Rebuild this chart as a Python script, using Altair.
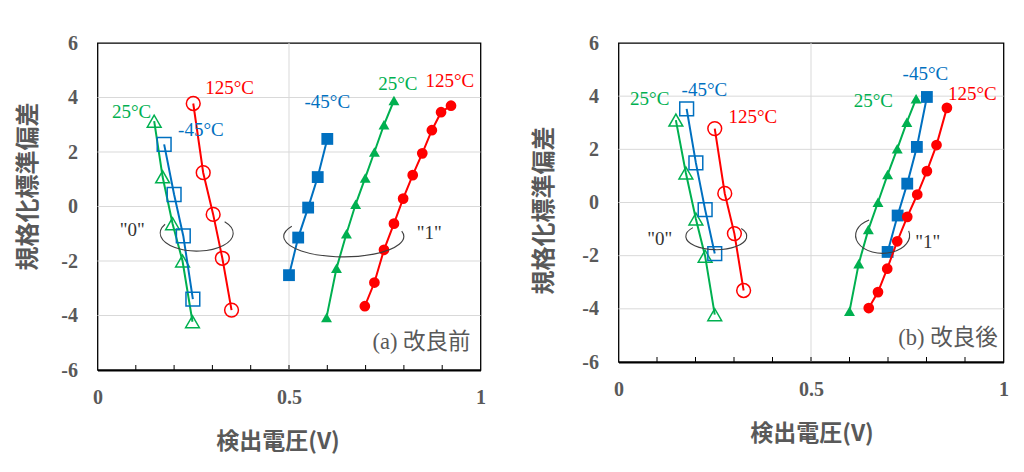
import math
import altair as alt
import pandas as pd

# ---------------- data: panel (a) 改良前 ----------------
A0_25_x = [0.148, 0.170, 0.196, 0.222, 0.248]
A0_25_y = [3.13, 1.09, -0.63, -2.00, -4.23]
A0_m45_x = [0.174, 0.200, 0.224, 0.249]
A0_m45_y = [2.28, 0.44, -1.08, -3.40]
A0_125_x = [0.250, 0.276, 0.302, 0.326, 0.350]
A0_125_y = [3.78, 1.24, -0.29, -1.90, -3.80]
A1_m45_x = [0.500, 0.524, 0.550, 0.575, 0.600]
A1_m45_y = [-2.52, -1.14, -0.04, 1.08, 2.48]
A1_25_x = [0.598, 0.624, 0.650, 0.674, 0.699, 0.723, 0.748, 0.774]
A1_25_y = [-4.07, -2.27, -1.00, 0.08, 1.05, 2.00, 3.00, 3.89]
A1_125_x = [0.698, 0.723, 0.748, 0.774, 0.798, 0.823, 0.848, 0.873, 0.897, 0.923]
A1_125_y = [-3.66, -2.79, -1.59, -0.63, 0.29, 1.15, 1.95, 2.80, 3.46, 3.70]

# ---------------- data: panel (b) 改良後 ----------------
B0_25_x = [0.149, 0.175, 0.201, 0.225, 0.250]
B0_25_y = [3.10, 1.11, -0.62, -2.02, -4.22]
B0_m45_x = [0.177, 0.201, 0.225, 0.250]
B0_m45_y = [3.52, 1.49, -0.27, -1.92]
B0_125_x = [0.250, 0.276, 0.301, 0.325]
B0_125_y = [2.78, 0.34, -1.17, -3.31]
B1_25_x = [0.600, 0.624, 0.649, 0.674, 0.699, 0.724, 0.749, 0.773]
B1_25_y = [-4.09, -2.30, -1.02, 0.01, 1.05, 2.02, 3.02, 3.90]
B1_m45_x = [0.699, 0.725, 0.750, 0.775, 0.801]
B1_m45_y = [-1.86, -0.49, 0.71, 2.09, 3.97]
B1_125_x = [0.650, 0.674, 0.698, 0.724, 0.750, 0.776, 0.801, 0.826, 0.853]
B1_125_y = [-3.97, -3.37, -2.49, -1.46, -0.54, 0.30, 1.18, 2.16, 3.56]

# ---------------- annotations ----------------
A_LABEL_TEXT = ["125°C", "25°C", "-45°C", "-45°C", "25°C", "125°C", '"0"', '"1"']
A_LABEL_X = [0.345, 0.089, 0.270, 0.600, 0.784, 0.920, 0.091, 0.866]
A_LABEL_Y = [4.35, 3.46, 2.79, 3.84, 4.50, 4.60, -0.87, -0.98]
A_LABEL_KIND = ["125", "25", "-45", "-45", "25", "125", "q", "q"]

B_LABEL_TEXT = ["25°C", "-45°C", "125°C", '"0"', "25°C", "-45°C", "125°C", '"1"']
B_LABEL_X = [0.081, 0.223, 0.349, 0.107, 0.662, 0.797, 0.919, 0.803]
B_LABEL_Y = [3.90, 4.25, 3.21, -1.37, 3.81, 4.82, 4.09, -1.50]
B_LABEL_KIND = ["25", "-45", "125", "q", "25", "-45", "125", "q"]

A_CAPTION = "(a) 改良前"
A_CAPTION_X = [0.974]
A_CAPTION_Y = [-4.96]
B_CAPTION = "(b) 改良後"
B_CAPTION_X = [0.985]
B_CAPTION_Y = [-5.10]

# ellipse centres (data units)
A_ELL_X = [0.259, 0.643]
A_ELL_Y = [-0.98, -1.10]
B_ELL_X = [0.254, 0.686]
B_ELL_Y = [-1.27, -1.24]

X_LABELS = [0, 0.5, 1]
Y_LABELS = [-6, -4, -2, 0, 2, 4, 6]
GRID_Y = [-4, -2, 0, 2, 4]
GRID_X = [0.5]
MINOR_X = [0.1, 0.2, 0.3, 0.4, 0.5, 0.6, 0.7, 0.8, 0.9]

# ---------------- styles ----------------
RED, GREEN, BLUE = "#FF0000", "#00B050", "#0070C0"
GRAY = "#595959"
COLORS = {"25": GREEN, "-45": BLUE, "125": RED, "q": "#333333"}
SHAPES = {"25": "triangle-up", "-45": "square", "125": "circle"}
OPEN_SIZE = {"25": 190, "-45": 190, "125": 190}
FILLED_SIZE = {"25": 120, "-45": 140, "125": 115}


def ellipse_path(k, a1, a2):
    x1 = math.cos(math.radians(a1))
    y1 = -k * math.sin(math.radians(a1))
    x2 = math.cos(math.radians(a2))
    y2 = -k * math.sin(math.radians(a2))
    return f"M {x1:.4f} {y1:.4f} A 1 {k:.4f} 0 1 0 {x2:.4f} {y2:.4f}"


# (pixel width, y/x ratio, start angle, end angle)
A_ELL_STYLE = [(73, 0.49, 150, 40), (120, 0.34, 150, 15)]
B_ELL_STYLE = [(61, 0.44, 140, 35), (54, 0.66, 120, 15)]


def make_panel(series, lab_text, lab_x, lab_y, lab_kind, cap, cap_x, cap_y,
               ell_x, ell_y, ell_style, W, H, xt_x, yt_x, yt_y):
    xscale = alt.Scale(domain=[0, 1], nice=False, zero=False)
    yscale = alt.Scale(domain=[-6, 6], nice=False, zero=False)
    xaxis = alt.Axis(values=X_LABELS, labelExpr="datum.value + ''", ticks=False, tickSize=0,
                     grid=False, domain=True, domainColor="#000000", domainWidth=2,
                     labelFont="Liberation Serif", labelFontWeight="bold", labelFontSize=20,
                     labelColor=GRAY, labelPadding=17, labelFlush=False,
                     title="検出電圧(V)", titleFont="Noto Sans CJK JP", titleFontWeight="bold",
                     titleFontSize=23, titleColor=GRAY, titleX=xt_x, titleY=71,
                     titleBaseline="middle", titleAlign="center")
    yaxis = alt.Axis(values=Y_LABELS, labelExpr="datum.value + ''", ticks=False, tickSize=0,
                     grid=False, domain=False,
                     labelFont="Liberation Serif", labelFontWeight="bold", labelFontSize=20,
                     labelColor=GRAY, labelPadding=20, labelFlush=False,
                     title="規格化標準偏差", titleFont="Noto Sans CJK JP", titleFontWeight="bold",
                     titleFontSize=24, titleColor=GRAY, titleX=yt_x, titleY=yt_y,
                     titleBaseline="middle", titleAlign="center", titleAngle=270)

    def X(f="x"):
        return alt.X(f"{f}:Q", scale=xscale, axis=xaxis)

    def Y(f="y"):
        return alt.Y(f"{f}:Q", scale=yscale, axis=yaxis)

    layers = []
    layers.append(alt.Chart(pd.DataFrame({"y": GRID_Y})).mark_rule(color="#D9D9D9", strokeWidth=1)
                  .encode(y=Y()))
    layers.append(alt.Chart(pd.DataFrame({"x": GRID_X})).mark_rule(color="#D9D9D9", strokeWidth=1)
                  .encode(x=X()))
    layers.append(alt.Chart(pd.DataFrame({"x": MINOR_X})).mark_rule(color="#000000", strokeWidth=1)
                  .encode(x=X(), y=alt.value(H), y2=alt.value(H - 5)))

    for xs, ys, kind, filled in series:
        df = pd.DataFrame({"x": xs, "y": ys, "i": list(range(len(xs)))})
        col = COLORS[kind]
        layers.append(alt.Chart(df).mark_line(color=col, strokeWidth=2)
                      .encode(x=X(), y=Y(), order="i:O"))
        layers.append(alt.Chart(df).mark_point(shape=SHAPES[kind], filled=filled,
                                               size=FILLED_SIZE[kind] if filled else OPEN_SIZE[kind],
                                               color=col, strokeWidth=1.5, opacity=1)
                      .encode(x=X(), y=Y()))

    for cx, cy, (pw, k, a1, a2) in zip(ell_x, ell_y, ell_style):
        df = pd.DataFrame({"x": [cx], "y": [cy]})
        layers.append(alt.Chart(df).mark_point(shape=ellipse_path(k, a1, a2), size=pw * pw,
                                               filled=False, color="#404040", strokeWidth=1.1,
                                               opacity=1)
                      .encode(x=X(), y=Y()))

    ldf = pd.DataFrame({"t": lab_text, "x": lab_x, "y": lab_y,
                        "c": [COLORS[k] for k in lab_kind]})
    layers.append(alt.Chart(ldf).mark_text(font="Liberation Serif", fontSize=19, align="center",
                                           baseline="middle")
                  .encode(x=X(), y=Y(), text="t:N", color=alt.Color("c:N", scale=None)))

    cdf = pd.DataFrame({"t": [cap], "x": cap_x, "y": cap_y})
    layers.append(alt.Chart(cdf).mark_text(font="Liberation Serif, Noto Sans CJK JP", fontSize=22.5,
                                           align="right", baseline="middle", color=GRAY)
                  .encode(x=X(), y=Y(), text="t:N"))

    return alt.layer(*layers).properties(width=W, height=H)


left = make_panel(
    [(A0_25_x, A0_25_y, "25", False), (A0_m45_x, A0_m45_y, "-45", False),
     (A0_125_x, A0_125_y, "125", False), (A1_m45_x, A1_m45_y, "-45", True),
     (A1_25_x, A1_25_y, "25", True), (A1_125_x, A1_125_y, "125", True)],
    A_LABEL_TEXT, A_LABEL_X, A_LABEL_Y, A_LABEL_KIND, A_CAPTION, A_CAPTION_X, A_CAPTION_Y,
    A_ELL_X, A_ELL_Y, A_ELL_STYLE, 383, 327, 180, -69, 143)

right = make_panel(
    [(B0_25_x, B0_25_y, "25", False), (B0_m45_x, B0_m45_y, "-45", False),
     (B0_125_x, B0_125_y, "125", False), (B1_25_x, B1_25_y, "25", True),
     (B1_m45_x, B1_m45_y, "-45", True), (B1_125_x, B1_125_y, "125", True)],
    B_LABEL_TEXT, B_LABEL_X, B_LABEL_Y, B_LABEL_KIND, B_CAPTION, B_CAPTION_X, B_CAPTION_Y,
    B_ELL_X, B_ELL_Y, B_ELL_STYLE, 385, 319, 193, -74, 167)

chart = (alt.hconcat(left, right, spacing=45)
         .properties(padding={"left": 7.5, "top": 24, "right": 0, "bottom": 0})
         .configure_view(stroke="#000000", strokeWidth=1.3))

chart.save("out.html", embed_options={"renderer": "svg", "actions": False})
